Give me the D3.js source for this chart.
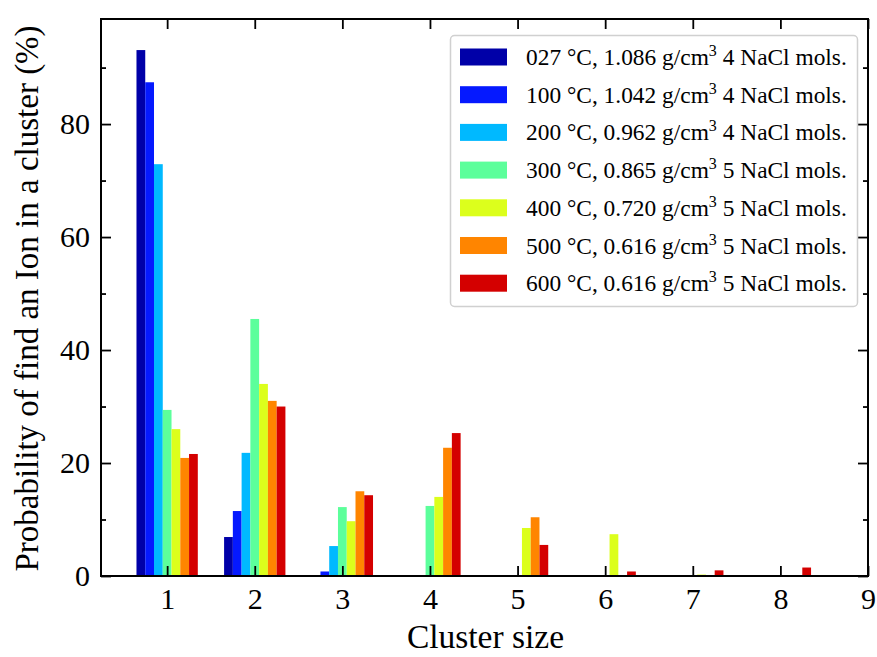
<!DOCTYPE html>
<html>
<head>
<meta charset="utf-8">
<script src="https://cdn.jsdelivr.net/npm/d3@7/dist/d3.min.js"></script>
<style>
  html, body { margin: 0; padding: 0; background: #fff; }
  svg { display: block; font-family: "Liberation Serif", "DejaVu Serif", serif; }
</style>
</head>
<body>
<svg id="chart" width="877" height="657"></svg>
<script>
// Cluster sizes on the x axis
const clusterSizes = [1, 2, 3, 4, 5, 6, 7, 8];

// Legend labels, one per simulation
const seriesLabels = [
  ["027 °C, 1.086 g/cm", "4 NaCl mols."],
  ["100 °C, 1.042 g/cm", "4 NaCl mols."],
  ["200 °C, 0.962 g/cm", "4 NaCl mols."],
  ["300 °C, 0.865 g/cm", "5 NaCl mols."],
  ["400 °C, 0.720 g/cm", "5 NaCl mols."],
  ["500 °C, 0.616 g/cm", "5 NaCl mols."],
  ["600 °C, 0.616 g/cm", "5 NaCl mols."]
];

const seriesColors = ["#0000a8", "#0519ff", "#00b9ff", "#5cff9b", "#dcff1c", "#ff8500", "#d40000"];

// Probability (%) per cluster size, one array per simulation
const s027 = [93.1, 6.9, 0.0, 0.0, 0.0, 0.0, 0.0, 0.0];
const s100 = [87.4, 11.5, 0.8, 0.0, 0.0, 0.0, 0.0, 0.0];
const s200 = [72.9, 21.8, 5.3, 0.0, 0.0, 0.0, 0.0, 0.0];
const s300 = [29.4, 45.5, 12.2, 12.4, 0.0, 0.15, 0.0, 0.0];
const s400 = [26.0, 34.0, 9.7, 14.0, 8.5, 7.4, 0.25, 0.0];
const s500 = [20.9, 31.0, 15.0, 22.7, 10.4, 0.0, 0.0, 0.0];
const s600 = [21.6, 30.0, 14.3, 25.3, 5.5, 0.8, 1.0, 1.5];
const seriesValues = [s027, s100, s200, s300, s400, s500, s600];

const xTicks = [1, 2, 3, 4, 5, 6, 7, 8, 9];
const yTicks = [0, 20, 40, 60, 80];
const yMinorTicks = [10, 30, 50, 70, 90];

const svg = d3.select("#chart");
const margin = { left: 101, right: 9, top: 19, bottom: 81 };
const W = 877, H = 657;
const iw = W - margin.left - margin.right;
const ih = H - margin.top - margin.bottom;

const x = d3.scaleLinear().domain([0.245, 9]).range([margin.left, margin.left + iw]);
const y = d3.scaleLinear().domain([0, 98.6]).range([margin.top + ih, margin.top]);

const barW = 0.1;
const serif = "'Liberation Serif', 'DejaVu Serif', serif";

// Bars
const g = svg.append("g");
seriesValues.forEach((vals, si) => {
  g.selectAll(null)
    .data(vals.map((v, i) => ({ c: clusterSizes[i], v })))
    .join("rect")
    .attr("x", d => x(d.c + (si - 3) * barW - barW / 2))
    .attr("width", d => x(d.c + barW / 2) - x(d.c - barW / 2))
    .attr("y", d => y(d.v))
    .attr("height", d => y(0) - y(d.v))
    .attr("fill", seriesColors[si]);
});

// Axes with inward ticks on all four sides
const tickSize = 10, minorSize = 5;
const axB = svg.append("g").attr("transform", `translate(0,${y(0)})`)
  .call(d3.axisBottom(x).tickValues(xTicks).tickFormat(d3.format("d")).tickSizeInner(-tickSize).tickSizeOuter(0).tickPadding(12));
const axT = svg.append("g").attr("transform", `translate(0,${margin.top})`)
  .call(d3.axisTop(x).tickValues(xTicks).tickFormat("").tickSizeInner(-tickSize).tickSizeOuter(0));
const axL = svg.append("g").attr("transform", `translate(${margin.left},0)`)
  .call(d3.axisLeft(y).tickValues(yTicks).tickFormat(d3.format("d")).tickSizeInner(-tickSize).tickSizeOuter(0).tickPadding(11));
const axR = svg.append("g").attr("transform", `translate(${margin.left + iw},0)`)
  .call(d3.axisRight(y).tickValues(yTicks).tickFormat("").tickSizeInner(-tickSize).tickSizeOuter(0));
const axLm = svg.append("g").attr("transform", `translate(${margin.left},0)`)
  .call(d3.axisLeft(y).tickValues(yMinorTicks).tickFormat("").tickSizeInner(-minorSize).tickSizeOuter(0));
const axRm = svg.append("g").attr("transform", `translate(${margin.left + iw},0)`)
  .call(d3.axisRight(y).tickValues(yMinorTicks).tickFormat("").tickSizeInner(-minorSize).tickSizeOuter(0));

[axB, axT, axL, axR, axLm, axRm].forEach(a => {
  a.attr("font-family", serif);
  a.select(".domain").remove();
  a.selectAll(".tick line").attr("stroke", "#000").attr("stroke-width", 1.8);
  a.selectAll(".tick text").attr("font-size", 30).attr("fill", "#000");
});

// Frame
svg.append("rect")
  .attr("x", margin.left).attr("y", margin.top)
  .attr("width", iw).attr("height", ih)
  .attr("fill", "none").attr("stroke", "#000").attr("stroke-width", 2);

// Axis titles
svg.append("text")
  .attr("x", margin.left + iw / 2 + 1).attr("y", 648)
  .attr("text-anchor", "middle").attr("font-size", 33.5).attr("font-family", serif)
  .text("Cluster size");
svg.append("text")
  .attr("transform", `translate(38,${margin.top + ih / 2 + 1}) rotate(-90)`)
  .attr("text-anchor", "middle").attr("font-size", 33).attr("font-family", serif)
  .text("Probability of find an Ion in a cluster (%)");

// Legend
const lg = svg.append("g").attr("font-family", serif);
lg.append("rect")
  .attr("x", 450.5).attr("y", 35.5).attr("width", 407).attr("height", 271)
  .attr("rx", 4).attr("fill", "#fff").attr("fill-opacity", 0.8)
  .attr("stroke", "#d0d0d0").attr("stroke-width", 1.5);
seriesLabels.forEach((lab, i) => {
  const cy = 57 + i * 37.7;
  lg.append("rect").attr("x", 460).attr("y", cy - 8.5).attr("width", 47).attr("height", 17)
    .attr("fill", seriesColors[i]);
  const t = lg.append("text").attr("x", 526).attr("y", cy + 8).attr("font-size", 23.4);
  t.append("tspan").text(lab[0]);
  t.append("tspan").attr("dy", -9).attr("font-size", 16).text("3");
  t.append("tspan").attr("dy", 9).text(" " + lab[1]);
});
</script>
</body>
</html>
